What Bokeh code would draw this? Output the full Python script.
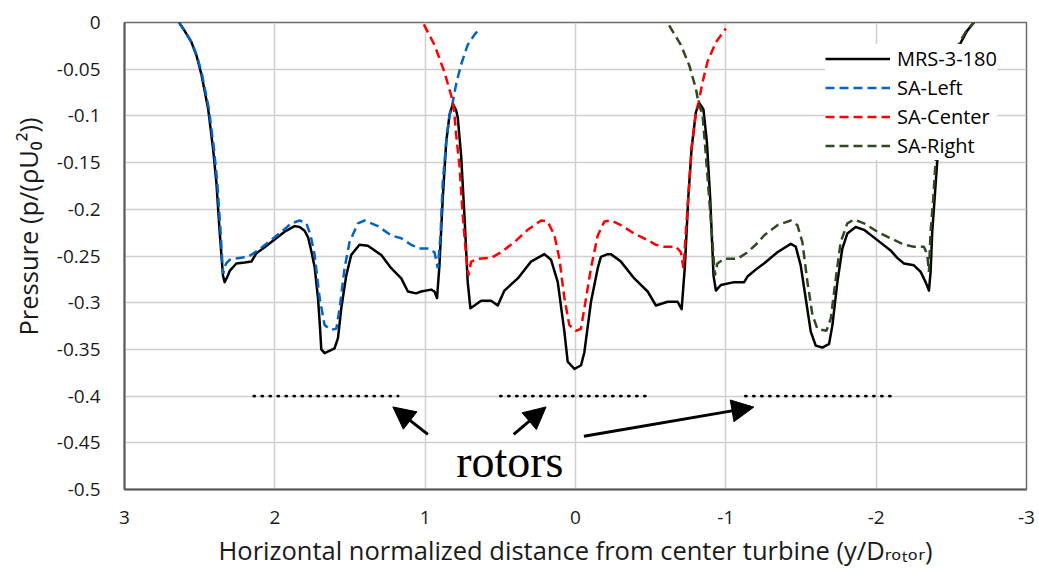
from bokeh.plotting import figure
from bokeh.models import Range1d, FixedTicker, Label, Arrow, NormalHead, Title
from bokeh.embed import file_html
from bokeh.resources import INLINE

# ---------------- data ----------------
mrs_x = [2.637, 2.60, 2.555, 2.52, 2.488, 2.444, 2.411, 2.389, 2.367, 2.345, 2.334, 2.315, 2.30,
         2.256, 2.20, 2.156, 2.123, 2.07, 2.023, 1.935, 1.868, 1.835, 1.802, 1.779, 1.757, 1.735,
         1.713, 1.70, 1.691, 1.669, 1.63, 1.603, 1.58, 1.558, 1.525, 1.492, 1.437, 1.381, 1.292,
         1.226, 1.159, 1.115, 1.06, 1.027, 0.96, 0.938, 0.921, 0.905, 0.883, 0.86, 0.838, 0.816,
         0.794, 0.783, 0.761, 0.739, 0.717, 0.699, 0.672, 0.628, 0.561, 0.517, 0.473, 0.384,
         0.296, 0.207, 0.163, 0.118, 0.074, 0.052, 0.007, -0.037, -0.059, -0.103, -0.148, -0.169,
         -0.214, -0.236, -0.302, -0.391, -0.48, -0.535, -0.613, -0.679, -0.706, -0.728, -0.75,
         -0.772, -0.801, -0.823, -0.851, -0.874, -0.896, -0.918, -0.934, -0.967, -1.055, -1.122,
         -1.144, -1.166, -1.211, -1.254, -1.343, -1.432, -1.465, -1.498, -1.532, -1.565, -1.598,
         -1.642, -1.687, -1.709, -1.742, -1.775, -1.808, -1.864, -1.919, -2.008, -2.096, -2.14,
         -2.185, -2.251, -2.296, -2.329, -2.351, -2.362, -2.373, -2.389, -2.406, -2.43, -2.47,
         -2.51, -2.561, -2.605, -2.65]
mrs_y = [0.0, -0.009, -0.021, -0.036, -0.056, -0.092, -0.135, -0.171, -0.224, -0.271, -0.278,
         -0.272, -0.266, -0.258, -0.257, -0.256, -0.247, -0.241, -0.235, -0.224, -0.218, -0.219,
         -0.223, -0.230, -0.245, -0.262, -0.295, -0.325, -0.350, -0.354, -0.351, -0.349, -0.338,
         -0.306, -0.271, -0.249, -0.238, -0.239, -0.249, -0.263, -0.274, -0.288, -0.290, -0.288,
         -0.286, -0.288, -0.295, -0.260, -0.188, -0.128, -0.099, -0.087, -0.094, -0.102, -0.142,
         -0.206, -0.278, -0.306, -0.303, -0.298, -0.298, -0.303, -0.287, -0.274, -0.256, -0.248,
         -0.254, -0.278, -0.331, -0.363, -0.371, -0.367, -0.353, -0.299, -0.263, -0.251, -0.248,
         -0.248, -0.256, -0.274, -0.288, -0.303, -0.299, -0.299, -0.307, -0.260, -0.188, -0.135,
         -0.096, -0.086, -0.093, -0.128, -0.188, -0.271, -0.287, -0.281, -0.278, -0.278, -0.272,
         -0.269, -0.263, -0.258, -0.246, -0.237, -0.240, -0.260, -0.296, -0.331, -0.346, -0.348,
         -0.344, -0.324, -0.278, -0.242, -0.226, -0.219, -0.222, -0.233, -0.244, -0.252, -0.258,
         -0.260, -0.267, -0.278, -0.287, -0.267, -0.224, -0.188, -0.149, -0.110, -0.072, -0.046,
         -0.022, -0.009, 0.0]

left_x = [2.637, 2.60, 2.553, 2.517, 2.484, 2.439, 2.405, 2.383, 2.361, 2.350, 2.343, 2.335,
          2.323, 2.30, 2.278, 2.178, 2.112, 2.001, 1.89, 1.835, 1.79, 1.762, 1.735, 1.702, 1.669,
          1.625, 1.591, 1.569, 1.536, 1.503, 1.447, 1.403, 1.315, 1.226, 1.159, 1.093, 1.038,
          0.971, 0.938, 0.916, 0.898, 0.883, 0.86, 0.838, 0.816, 0.794, 0.761, 0.717, 0.672, 0.633]
left_y = [0.0, -0.009, -0.021, -0.036, -0.056, -0.092, -0.135, -0.171, -0.224, -0.255, -0.269,
          -0.262, -0.258, -0.254, -0.253, -0.251, -0.244, -0.230, -0.215, -0.212, -0.215, -0.228,
          -0.249, -0.295, -0.324, -0.329, -0.328, -0.306, -0.263, -0.235, -0.215, -0.212, -0.218,
          -0.228, -0.231, -0.238, -0.242, -0.242, -0.246, -0.263, -0.228, -0.171, -0.128, -0.099,
          -0.085, -0.066, -0.045, -0.024, -0.013, -0.006]

center_x = [1.009, 0.938, 0.872, 0.827, 0.816, 0.805, 0.794, 0.772, 0.75, 0.728, 0.712, 0.694,
            0.65, 0.561, 0.495, 0.406, 0.318, 0.229, 0.185, 0.14, 0.107, 0.074, 0.041, -0.003,
            -0.036, -0.059, -0.103, -0.148, -0.192, -0.236, -0.302, -0.391, -0.48, -0.535, -0.59,
            -0.668, -0.701, -0.718, -0.734, -0.75, -0.772, -0.801, -0.818, -0.845, -0.878, -0.934,
            -1.0]
center_y = [-0.002, -0.024, -0.053, -0.078, -0.085, -0.099, -0.120, -0.153, -0.206, -0.249,
            -0.271, -0.256, -0.253, -0.252, -0.246, -0.235, -0.222, -0.212, -0.213, -0.228,
            -0.253, -0.295, -0.324, -0.330, -0.328, -0.306, -0.263, -0.228, -0.213, -0.212,
            -0.217, -0.226, -0.233, -0.238, -0.240, -0.240, -0.246, -0.263, -0.224, -0.188,
            -0.135, -0.096, -0.086, -0.064, -0.042, -0.021, -0.0065]

right_x = [-0.623, -0.701, -0.757, -0.801, -0.818, -0.845, -0.867, -0.889, -0.911, -0.927, -0.944,
           -0.989, -1.077, -1.144, -1.211, -1.254, -1.343, -1.432, -1.476, -1.509, -1.543, -1.576,
           -1.609, -1.669, -1.698, -1.734, -1.764, -1.808, -1.853, -1.919, -2.008, -2.096, -2.185,
           -2.251, -2.318, -2.34, -2.351, -2.362, -2.38, -2.395, -2.42, -2.46, -2.50, -2.555,
           -2.60, -2.65]
right_y = [-0.003, -0.024, -0.046, -0.071, -0.086, -0.099, -0.142, -0.188, -0.235, -0.271, -0.258,
           -0.253, -0.253, -0.246, -0.236, -0.228, -0.217, -0.212, -0.217, -0.235, -0.278, -0.313,
           -0.328, -0.330, -0.317, -0.271, -0.235, -0.215, -0.211, -0.215, -0.224, -0.231, -0.238,
           -0.240, -0.240, -0.249, -0.267, -0.224, -0.188, -0.149, -0.110, -0.072, -0.046, -0.021,
           -0.009, 0.0]

# rotor extents (dotted lines at y = rotor_level)
rotor_start = [2.14, 0.50, -1.13]
rotor_end = [1.18, -0.50, -2.14]
rotor_level = -0.4

x_ticks = [3, 2, 1, 0, -1, -2, -3]
x_tick_labels = ["3", "2", "1", "0", "-1", "-2", "-3"]
y_ticks = [0, -0.05, -0.1, -0.15, -0.2, -0.25, -0.3, -0.35, -0.4, -0.45, -0.5]
y_tick_labels = ["0", "-0.05", "-0.1", "-0.15", "-0.2", "-0.25", "-0.3", "-0.35", "-0.4",
                 "-0.45", "-0.5"]

# annotation arrows (tail x, tail y, tip x, tip y)
arrow_tail_x = [0.982, 0.411, -0.056]
arrow_tail_y = [-0.441, -0.441, -0.443]
arrow_tip_x = [1.215, 0.196, -1.186]
arrow_tip_y = [-0.4116, -0.4116, -0.4118]
rotor_text_x = 0.794
rotor_text_y = -0.4705

FONT = "Open Sans"
FONT_LIST = "'Open Sans', 'DejaVu Sans', sans-serif"

p = figure(width=1039, height=573, output_backend="svg", toolbar_location=None,
           x_range=Range1d(3, -3), y_range=Range1d(-0.5, 0), title=None,
           min_border_left=123, min_border_right=13, min_border_top=22, min_border_bottom=84)

p.background_fill_color = "white"
p.border_fill_color = "white"
p.outline_line_color = "#6b6b6b"
p.outline_line_width = 1.5

p.xaxis.ticker = FixedTicker(ticks=x_ticks)
p.yaxis.ticker = FixedTicker(ticks=y_ticks)
p.xaxis.major_label_overrides = {t: l for t, l in zip(x_ticks, x_tick_labels)}
p.yaxis.major_label_overrides = {t: l for t, l in zip(y_ticks, y_tick_labels)}
for ax in (p.xaxis, p.yaxis):
    ax.axis_line_color = "#595959"
    ax.axis_line_width = 2
    ax.major_tick_line_color = None
    ax.minor_tick_line_color = None
    ax.major_label_text_font = FONT
    ax.major_label_text_font_size = "19px"
    ax.major_label_text_color = "#1a1a1a"
p.xaxis.major_label_standoff = 15
p.yaxis.major_label_standoff = 18

p.xaxis.axis_label = "Horizontal normalized distance from center turbine (y/D\u1d63\u2092\u209c\u2092\u1d63)"
p.xaxis.axis_label_text_font = FONT_LIST
p.xaxis.axis_label_text_font_size = "25.5px"
p.xaxis.axis_label_text_font_style = "normal"
p.xaxis.axis_label_text_color = "#1a1a1a"
p.xaxis.axis_label_standoff = 6

p.add_layout(Title(text="Pressure (p/(\u03c1U\u2080\u00b2))", align="left", offset=154,
                   standoff=17, text_font=FONT_LIST, text_font_size="25.5px",
                   text_font_style="normal", text_color="#1a1a1a"), "left")

p.grid.grid_line_color = "#cfcfcf"
p.grid.grid_line_width = 1.5

lw = 2.5
p.line(mrs_x, mrs_y, line_color="black", line_width=lw, line_join="round",
       legend_label="MRS-3-180")
p.line(left_x, left_y, line_color="#0563C1", line_width=lw, line_dash="9 5",
       legend_label="SA-Left")
p.line(center_x, center_y, line_color="#FF0000", line_width=lw, line_dash="9 5",
       legend_label="SA-Center")
p.line(right_x, right_y, line_color="#2E4A1E", line_width=lw, line_dash="9 5",
       legend_label="SA-Right")

# rotor dotted lines
p.multi_line(xs=[[s, e] for s, e in zip(rotor_start, rotor_end)],
             ys=[[rotor_level, rotor_level] for _ in rotor_start],
             line_color="black", line_width=2.8, line_dash="1 7", line_cap="round")

for tx, ty, hx, hy in zip(arrow_tail_x, arrow_tail_y, arrow_tip_x, arrow_tip_y):
    p.add_layout(Arrow(end=NormalHead(size=22, fill_color="black", line_color="black"),
                       x_start=tx, y_start=ty, x_end=hx, y_end=hy,
                       line_color="black", line_width=3))

p.add_layout(Label(x=rotor_text_x, y=rotor_text_y, text="rotors", text_font="Liberation Serif",
                   text_font_size="46px", text_color="black", text_align="left",
                   text_baseline="alphabetic"))

# legend
leg = p.legend[0]
leg.location = (701, 329)
leg.padding = 10
leg.margin = 0
leg.spacing = 0
leg.label_height = 29
leg.glyph_height = 29
leg.glyph_width = 65
leg.label_standoff = 7
leg.label_text_font = FONT
leg.label_text_font_size = "20px"
leg.label_text_color = "black"
leg.border_line_color = None
leg.background_fill_color = "white"
leg.background_fill_alpha = 1.0

open("out.html", "w").write(file_html(p, INLINE))
